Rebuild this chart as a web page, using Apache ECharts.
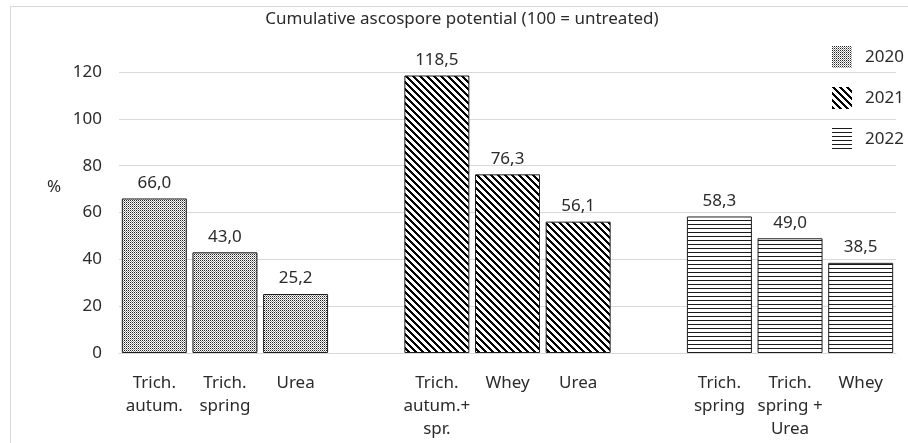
<!DOCTYPE html>
<html>
<head>
<meta charset="utf-8">
<script src="https://cdn.jsdelivr.net/npm/echarts@6/dist/echarts.min.js"></script>
<style>
  html, body { margin: 0; padding: 0; background: #fff; }
  #chart { width: 908px; height: 443px; }
</style>
</head>
<body>
<div id="chart"></div>
<script>
// Treatment labels per slot; empty strings leave a gap between the years
const categories = [
  'Trich.\nautum.', 'Trich.\nspring', 'Urea', '',
  'Trich.\nautum.+\nspr.', 'Whey', 'Urea', '',
  'Trich.\nspring', 'Trich.\nspring +\nUrea', 'Whey'
];
const years = ['2020', '2021', '2022'];
const values2020 = [66.0, 43.0, 25.2];
const values2021 = [118.5, 76.3, 56.1];
const values2022 = [58.3, 49.0, 38.5];
// first category slot used by each year
const groupStart = [0, 4, 8];
const yTicks = [0, 20, 40, 60, 80, 100, 120];

const FONT = 'Noto Sans';
const TEXT = '#2b2b2b';
const FS = 17;

function makeTile(w, h, draw) {
  const c = document.createElement('canvas');
  c.width = w; c.height = h;
  const ctx = c.getContext('2d');
  ctx.fillStyle = '#ffffff';
  ctx.fillRect(0, 0, w, h);
  draw(ctx);
  return { image: c, repeat: 'repeat' };
}

// fine stipple
const dotFill = makeTile(2, 2, ctx => {
  ctx.fillStyle = '#222222';
  ctx.fillRect(0, 0, 1, 1);
  ctx.fillStyle = '#9a9a9a';
  ctx.fillRect(1, 1, 1, 1);
});
// wide downward diagonal stripes
const diagFill = makeTile(7, 7, ctx => {
  ctx.fillStyle = '#000000';
  for (let y = 0; y < 7; y++) {
    for (let k = 0; k < 3; k++) {
      ctx.fillRect((y + k) % 7, y, 1, 1);
    }
  }
});
// narrow horizontal lines
const hLineFill = makeTile(4, 4, ctx => {
  ctx.fillStyle = '#1a1a1a';
  ctx.fillRect(0, 0, 4, 1);
});
const fills = [dotFill, diagFill, hLineFill];

function placeValues(vals, start) {
  const out = categories.map(() => '-');
  vals.forEach((v, i) => { out[start + i] = v; });
  return out;
}
const seriesValues = [values2020, values2021, values2022];

const chart = echarts.init(document.getElementById('chart'), null, { renderer: 'canvas' });

chart.setOption({
  animation: false,
  backgroundColor: '#ffffff',
  title: {
    text: 'Cumulative ascospore potential (100 = untreated)',
    left: 462,
    top: 11,
    textAlign: 'center',
    padding: 0,
    textStyle: { fontFamily: FONT, fontSize: FS, fontWeight: 'normal', color: TEXT }
  },
  legend: {
    orient: 'vertical',
    left: 827,
    top: 41,
    itemWidth: 20,
    itemHeight: 22,
    itemGap: 19,
    icon: 'rect',
    itemStyle: { borderWidth: 0 },
    textStyle: { fontFamily: FONT, fontSize: FS, color: TEXT, padding: [0, 0, 0, 8] },
    data: years
  },
  grid: { left: 119, right: 12, top: 72, bottom: 90 },
  xAxis: {
    type: 'category',
    data: categories,
    axisLine: { show: true, lineStyle: { color: '#d9d9d9', width: 1 } },
    axisTick: { show: false },
    axisLabel: {
      interval: 0,
      margin: 19,
      fontFamily: FONT,
      fontSize: FS,
      lineHeight: 23,
      color: TEXT
    }
  },
  yAxis: {
    type: 'value',
    min: yTicks[0],
    max: yTicks[yTicks.length - 1],
    interval: 20,
    axisLine: { show: false },
    axisTick: { show: false },
    splitLine: { lineStyle: { color: '#d9d9d9', width: 1 } },
    axisLabel: { margin: 17, fontFamily: FONT, fontSize: FS, color: TEXT }
  },
  graphic: [
    { type: 'line', shape: { x1: 10, y1: 6.5, x2: 908, y2: 6.5 }, style: { stroke: '#d9d9d9', lineWidth: 1 } },
    { type: 'line', shape: { x1: 10.5, y1: 6, x2: 10.5, y2: 443 }, style: { stroke: '#d9d9d9', lineWidth: 1 } },
    { type: 'text', left: 47, top: 179, style: { text: '%', fontFamily: FONT, fontSize: FS, fill: TEXT } }
  ],
  series: years.map((y, i) => ({
    name: y,
    type: 'bar',
    stack: 'all',
    barCategoryGap: '8%',
    data: placeValues(seriesValues[i], groupStart[i]),
    itemStyle: { color: fills[i], borderColor: '#1f1f1f', borderWidth: 1 },
    label: {
      show: true,
      position: 'top',
      distance: 7,
      fontFamily: FONT,
      fontSize: FS,
      color: TEXT,
      formatter: p => p.value.toFixed(1).replace('.', ',')
    }
  }))
});
</script>
</body>
</html>
